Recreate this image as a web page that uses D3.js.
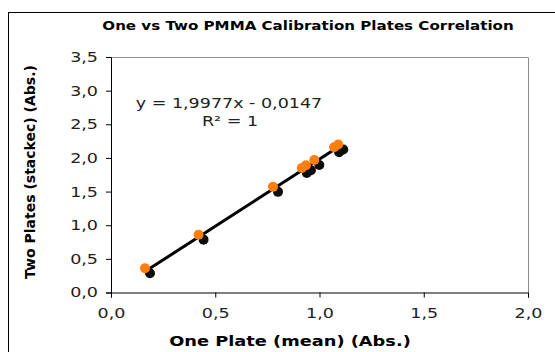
<!DOCTYPE html>
<html>
<head>
<meta charset="utf-8">
<script src="https://cdn.jsdelivr.net/npm/d3@7"></script>
<style>
  body { margin: 0; background: #fff; }
  svg { display: block; font-family: "DejaVu Sans", Verdana, sans-serif; }
</style>
</head>
<body>
<div id="chart"></div>
<script>
// one plate (mean) vs two plates (stacked) absorbance
const onePlate = [0.163, 0.42, 0.777, 0.915, 0.935, 0.975, 1.07, 1.09];
const twoPlates = [0.36, 0.86, 1.57, 1.85, 1.89, 1.97, 2.16, 2.2];
const xTicks = [0, 0.5, 1.0, 1.5, 2.0];
const yTicks = [0, 0.5, 1.0, 1.5, 2.0, 2.5, 3.0, 3.5];
const trend = { slope: 1.9977, intercept: -0.0147 };

const width = 555, height = 352;
const plot = { left: 111, right: 528, top: 57, bottom: 292.5 };

const svg = d3.select('#chart').append('svg')
  .attr('width', width)
  .attr('height', height);

// the source picture is stretched sideways, so widen horizontal text
function widen(sel, k) {
  sel.each(function() {
    const w = this.getComputedTextLength();
    d3.select(this)
      .attr('textLength', w * k)
      .attr('lengthAdjust', 'spacingAndGlyphs');
  });
}

const defs = svg.append('defs');
defs.append('filter').attr('id', 'soft')
  .append('feGaussianBlur').attr('stdDeviation', 0.7);

// chart area border (runs off the right and bottom edges)
svg.append('rect')
  .attr('x', 8.5).attr('y', 12.5)
  .attr('width', 580).attr('height', 380)
  .attr('fill', '#fff')
  .attr('stroke', '#000');

const x = d3.scaleLinear().domain([0, 2]).range([plot.left, plot.right]);
const y = d3.scaleLinear().domain([0, 3.5]).range([plot.bottom, plot.top]);
const fmt = d => d3.format('.1f')(d).replace('.', ',');

// plot area frame, top and right in grey
svg.append('path')
  .attr('d', `M${plot.left},${plot.top + 0.5}H${plot.right + 0.5}V${plot.bottom}`)
  .attr('fill', 'none')
  .attr('stroke', '#8c8c8c');

const xAxis = svg.append('g')
  .attr('transform', `translate(0,${plot.bottom})`)
  .call(d3.axisBottom(x).tickValues(xTicks).tickFormat(fmt).tickSizeOuter(0).tickSize(5).tickPadding(11));
const yAxis = svg.append('g')
  .attr('transform', `translate(${plot.left},0)`)
  .call(d3.axisLeft(y).tickValues(yTicks).tickFormat(fmt).tickSizeOuter(0).tickSize(5).tickPadding(8));

[xAxis, yAxis].forEach(g => {
  g.attr('font-family', null).attr('font-size', null);
  g.select('.domain').attr('stroke', '#000');
  g.selectAll('.tick line').attr('stroke', '#000');
  g.selectAll('.tick text')
    .attr('fill', '#222')
    .style('font-size', '14px')
    .call(widen, 1.25);
});

// trendline over the range of the data
const xr = d3.extent(onePlate);
const line = d3.line().x(d => x(d)).y(d => y(trend.slope * d + trend.intercept));
svg.append('path')
  .datum(xr)
  .attr('d', line)
  .attr('fill', 'none')
  .attr('stroke', '#000')
  .attr('stroke-width', 3);

const pts = onePlate.map((v, i) => ({ x: v, y: twoPlates[i] }));

// marker shadows
svg.append('g')
  .attr('filter', 'url(#soft)')
  .selectAll('circle')
  .data(pts).join('circle')
  .attr('cx', d => x(d.x) + 5)
  .attr('cy', d => y(d.y) + 5)
  .attr('r', 5)
  .attr('fill', '#111');

svg.append('g').selectAll('circle')
  .data(pts).join('circle')
  .attr('cx', d => x(d.x))
  .attr('cy', d => y(d.y))
  .attr('r', 5)
  .attr('fill', '#ff7f0e');

// equation
svg.append('text')
  .attr('x', 229).attr('y', 108)
  .attr('text-anchor', 'middle')
  .style('font-size', '14px')
  .attr('fill', '#222')
  .text('y = 1,9977x - 0,0147')
  .call(widen, 1.25);
svg.append('text')
  .attr('x', 230).attr('y', 126)
  .attr('text-anchor', 'middle')
  .style('font-size', '14px')
  .attr('fill', '#222')
  .text('R² = 1')
  .call(widen, 1.25);

// titles
svg.append('text')
  .attr('x', 308).attr('y', 30)
  .attr('text-anchor', 'middle')
  .style('font-size', '13px')
  .style('font-weight', 'bold')
  .text('One vs Two PMMA Calibration Plates Correlation')
  .call(widen, 1.16);

svg.append('text')
  .attr('x', 290).attr('y', 346)
  .attr('text-anchor', 'middle')
  .style('font-size', '14px')
  .style('font-weight', 'bold')
  .text('One Plate (mean) (Abs.)')
  .call(widen, 1.27);

svg.append('text')
  .attr('transform', 'translate(35,172) rotate(-90)')
  .attr('text-anchor', 'middle')
  .style('font-size', '14px')
  .style('font-weight', 'bold')
  .text('Two Plates (stackec) (Abs.)');
</script>
</body>
</html>
